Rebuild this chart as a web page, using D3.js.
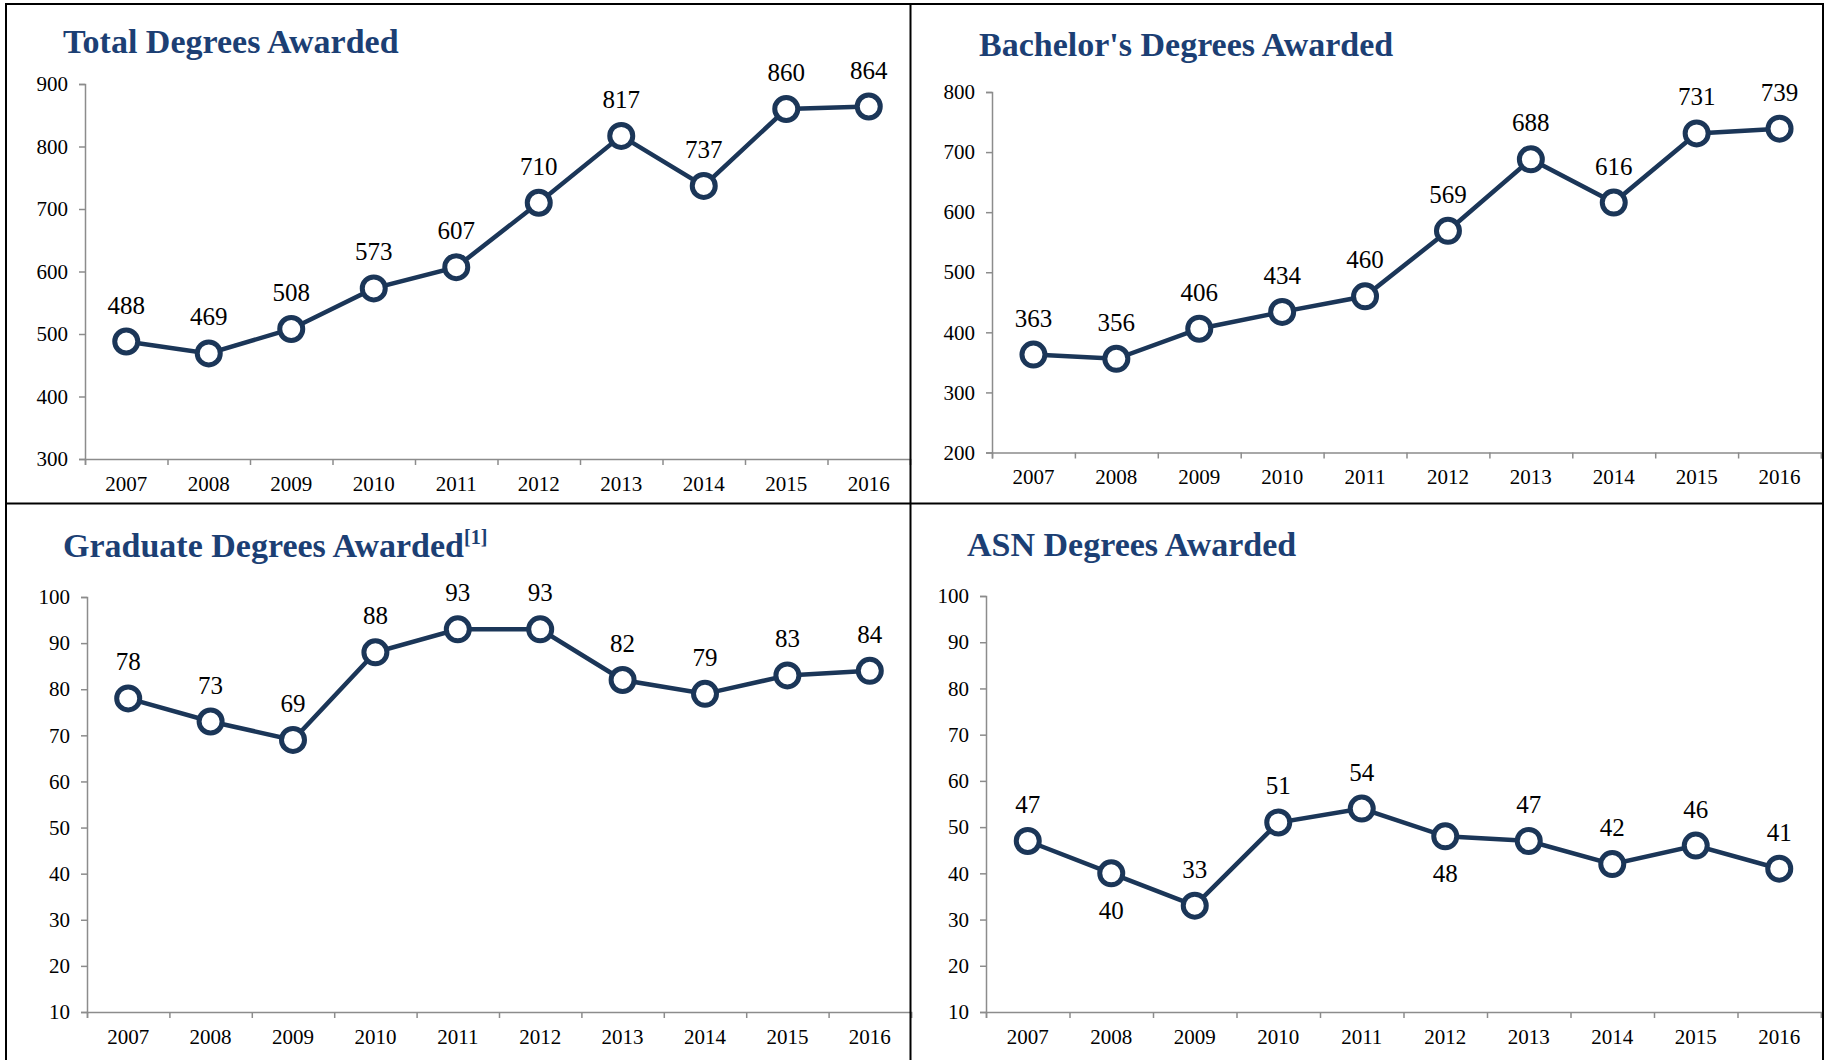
<!DOCTYPE html>
<html lang="en">
<head>
    <meta charset="utf-8">
    <style type="text/css">
        body {
            margin: 0;
            background: #fff;
        }

        svg {
            display: block;
            font-family: "Liberation Serif", "Times New Roman", serif;
        }

        .axis path,
        .axis line {
            stroke: #8c8c8c;
            stroke-width: 1.5px;
        }

        .axis text {
            font-family: "Liberation Serif", "Times New Roman", serif;
            font-size: 21px;
            fill: #000;
        }

        .title {
            font-size: 34px;
            font-weight: bold;
            fill: #1c3f74;
        }

        .line {
            fill: none;
            stroke: #1b3658;
            stroke-width: 4.5px;
        }

        .dot {
            fill: #fff;
            stroke: #1b3658;
            stroke-width: 5px;
        }

        .value {
            font-size: 25px;
            fill: #000;
            text-anchor: middle;
        }

        .frame {
            stroke: #000;
            stroke-width: 2px;
            fill: none;
        }
    </style>
</head>
<body>
<svg width="1830" height="1060"></svg>

<script src="https://d3js.org/d3.v7.min.js" type="text/javascript"></script>

<script type="text/javascript">
    var years = ["2007", "2008", "2009", "2010", "2011", "2012", "2013", "2014", "2015", "2016"];

    var totalDegrees = [488, 469, 508, 573, 607, 710, 817, 737, 860, 864];
    var bachelorDegrees = [363, 356, 406, 434, 460, 569, 688, 616, 731, 739];
    var graduateDegrees = [78, 73, 69, 88, 93, 93, 82, 79, 83, 84];
    var asnDegrees = [47, 40, 33, 51, 54, 48, 47, 42, 46, 41];

    var totalTicks = [300, 400, 500, 600, 700, 800, 900];
    var bachelorTicks = [200, 300, 400, 500, 600, 700, 800];
    var percentTicks = [10, 20, 30, 40, 50, 60, 70, 80, 90, 100];

    // panel placement on the page
    var layout = [
        {title: "Total Degrees Awarded", values: totalDegrees, ticks: totalTicks,
            left: 85, right: 910, top: 84, bottom: 459, tx: 63, ty: 53, below: []},
        {title: "Bachelor's Degrees Awarded", values: bachelorDegrees, ticks: bachelorTicks,
            left: 992, right: 1821, top: 92, bottom: 452.5, tx: 979, ty: 56, below: []},
        {title: "Graduate Degrees Awarded", note: "[1]", values: graduateDegrees, ticks: percentTicks,
            left: 87, right: 911, top: 597, bottom: 1012, tx: 63, ty: 557, below: []},
        {title: "ASN Degrees Awarded", values: asnDegrees, ticks: percentTicks,
            left: 986, right: 1821, top: 596, bottom: 1012, tx: 967, ty: 556, below: [1, 5]}
    ];

    var svg = d3.select("svg");

    layout.forEach(drawPanel);

    // outer frame and dividers
    svg.append("rect")
        .attr("class", "frame")
        .attr("x", 6)
        .attr("y", 4)
        .attr("width", 1817)
        .attr("height", 1070);
    svg.append("line")
        .attr("class", "frame")
        .attr("x1", 910.5).attr("x2", 910.5)
        .attr("y1", 4).attr("y2", 1060);
    svg.append("line")
        .attr("class", "frame")
        .attr("x1", 6).attr("x2", 1823)
        .attr("y1", 503.5).attr("y2", 503.5);

    function drawPanel(p) {
        var g = svg.append("g");

        var x = d3.scaleBand()
            .domain(years)
            .range([p.left, p.right]);

        var xEdge = d3.scaleLinear()
            .domain([0, years.length])
            .range([p.left, p.right]);

        var y = d3.scaleLinear()
            .domain(d3.extent(p.ticks))
            .range([p.bottom, p.top]);

        var title = g.append("text")
            .attr("class", "title")
            .attr("x", p.tx)
            .attr("y", p.ty)
            .text(p.title);
        if (p.note) {
            title.append("tspan")
                .attr("dy", -13)
                .style("font-size", "20px")
                .text(p.note);
        }

        g.append("g")
            .attr("class", "axis")
            .attr("transform", "translate(" + p.left + ",0)")
            .call(d3.axisLeft(y)
                .tickValues(p.ticks)
                .tickSize(6)
                .tickPadding(11));

        g.append("g")
            .attr("class", "axis")
            .attr("transform", "translate(0," + p.bottom + ")")
            .call(d3.axisBottom(xEdge)
                .tickValues(d3.range(0, years.length + 1))
                .tickFormat("")
                .tickSize(6));

        var labels = g.append("g")
            .attr("class", "axis")
            .attr("transform", "translate(0," + p.bottom + ")")
            .call(d3.axisBottom(x)
                .tickSize(0)
                .tickPadding(17));
        labels.select(".domain").remove();

        var line = d3.line()
            .x(function (d, i) {
                return x(years[i]) + x.bandwidth() / 2;
            })
            .y(function (d) {
                return y(d);
            });

        g.append("path")
            .datum(p.values)
            .attr("class", "line")
            .attr("d", line);

        g.selectAll(".dot")
            .data(p.values)
            .enter()
            .append("circle")
            .attr("class", "dot")
            .attr("cx", function (d, i) {
                return x(years[i]) + x.bandwidth() / 2;
            })
            .attr("cy", function (d) {
                return y(d);
            })
            .attr("r", 11.5);

        g.selectAll(".value")
            .data(p.values)
            .enter()
            .append("text")
            .attr("class", "value")
            .attr("x", function (d, i) {
                return x(years[i]) + x.bandwidth() / 2;
            })
            .attr("y", function (d, i) {
                return p.below.indexOf(i) >= 0 ? y(d) + 46 : y(d) - 28;
            })
            .text(function (d) {
                return d;
            });
    }
</script>

</body>
</html>
